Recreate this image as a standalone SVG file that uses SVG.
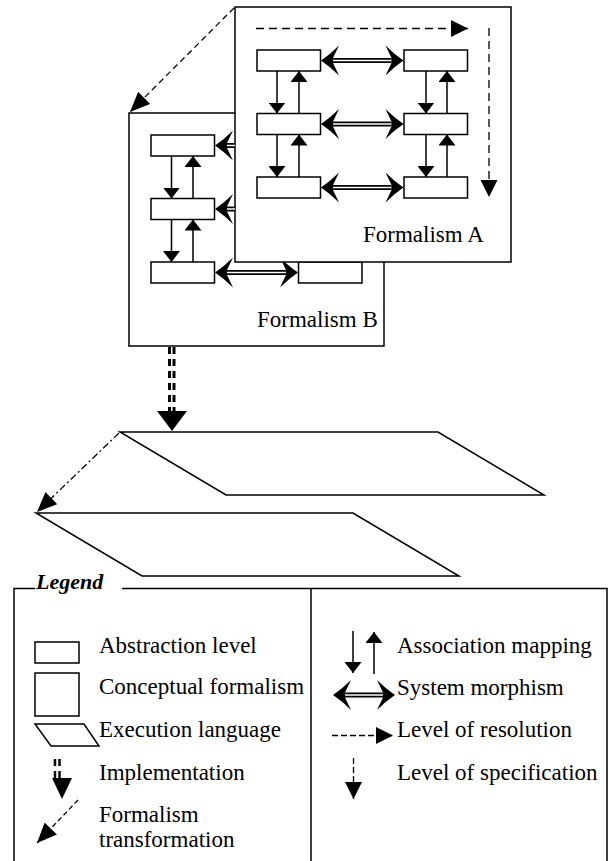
<svg xmlns="http://www.w3.org/2000/svg" xmlns:xlink="http://www.w3.org/1999/xlink" width="610" height="861" viewBox="0 0 610 861">
<style>
.box{fill:#fff;stroke:#000;stroke-width:1.5}
.lvl{fill:#fff;stroke:#000;stroke-width:1.5}
.ln{fill:none;stroke:#000;stroke-width:1.5}
.assoc{fill:none;stroke:#000;stroke-width:1.5;marker-end:url(#tri)}
.dash{fill:none;stroke:#000;stroke-width:1.3;stroke-dasharray:8,5;marker-end:url(#dh)}
.tr{fill:none;stroke:#000;stroke-width:1.3;stroke-dasharray:6,4;marker-end:url(#th)}
.shaft{stroke:#000;stroke-width:5}
.gap{stroke:#fff;stroke-width:1.6}
.impl{stroke:#000;stroke-width:3;stroke-dasharray:7,5}
text{font-family:"Liberation Serif","Times New Roman",serif;font-size:23px;fill:#000}
.leg{font-weight:bold;font-style:italic;font-size:22px}
</style>
<defs>
<marker id="tri" viewBox="0 0 11 17" refX="11" refY="8.5" markerWidth="11" markerHeight="17" markerUnits="userSpaceOnUse" orient="auto"><path d="M0,0L11,8.5L0,17Z" fill="#000"/></marker>
<marker id="dh" viewBox="0 0 17 17" refX="17" refY="8.5" markerWidth="17" markerHeight="17" markerUnits="userSpaceOnUse" orient="auto"><path d="M0,0L17,8.5L0,17Z" fill="#000"/></marker>
<marker id="th" viewBox="0 0 20 17" refX="20" refY="8.5" markerWidth="20" markerHeight="17" markerUnits="userSpaceOnUse" orient="auto"><path d="M0,0L20,8.5L0,17Z" fill="#000"/></marker>
<path id="mh" d="M0,0Q9,-6 18,-15L12,-2.5L12,2.5L18,15Q9,6 0,0Z" fill="#000"/>
<clipPath id="outA"><path clip-rule="evenodd" d="M0,0H610V861H0Z M235,7V262H511V7Z"/></clipPath>
</defs>

<g id="formalismB">
<rect class="box" x="129" y="113" width="255" height="233"/>
<rect class="lvl" x="151" y="135" width="63.5" height="21"/>
<rect class="lvl" x="151" y="198.5" width="63.5" height="21"/>
<rect class="lvl" x="151" y="262" width="63.5" height="21"/>
<rect class="lvl" x="298.5" y="135" width="63.5" height="21"/>
<rect class="lvl" x="298.5" y="198.5" width="63.5" height="21"/>
<rect class="lvl" x="298.5" y="262" width="63.5" height="21"/>
<text x="257" y="327">Formalism B</text>
</g>

<g id="formalismA">
<rect class="box" x="235" y="7" width="276" height="255"/>
<rect class="lvl" x="257" y="50" width="63.5" height="21"/>
<rect class="lvl" x="257" y="113.5" width="63.5" height="21"/>
<rect class="lvl" x="257" y="177" width="63.5" height="21"/>
<rect class="lvl" x="404" y="50" width="63.5" height="21"/>
<rect class="lvl" x="404" y="113.5" width="63.5" height="21"/>
<rect class="lvl" x="404" y="177" width="63.5" height="21"/>
<text x="363" y="242">Formalism A</text>
</g>

<g id="execLangUpper">
<polygon class="ln" points="120,432 438,432 544,495 226,495"/>
</g>
<g id="execLangLower">
<polygon class="ln" points="36,513 353,513 459,576 142,576"/>
</g>

<g id="connectors">
<g clip-path="url(#outA)">
<line class="shaft" x1="227" y1="145.5" x2="286" y2="145.5"/><line class="gap" x1="227" y1="145.5" x2="286" y2="145.5"/>
<use xlink:href="#mh" transform="translate(215,145.5)"/><use xlink:href="#mh" transform="translate(298,145.5) scale(-1,1)"/>
<line class="shaft" x1="227" y1="209" x2="286" y2="209"/><line class="gap" x1="227" y1="209" x2="286" y2="209"/>
<use xlink:href="#mh" transform="translate(215,209)"/><use xlink:href="#mh" transform="translate(298,209) scale(-1,1)"/>
<line class="shaft" x1="227" y1="272.5" x2="286" y2="272.5"/><line class="gap" x1="227" y1="272.5" x2="286" y2="272.5"/>
<use xlink:href="#mh" transform="translate(215,272.5)"/><use xlink:href="#mh" transform="translate(298,272.5) scale(-1,1)"/>
<line class="assoc" x1="171.5" y1="156" x2="171.5" y2="198.5"/>
<line class="assoc" x1="193" y1="198.5" x2="193" y2="156"/>
<line class="assoc" x1="171.5" y1="219.5" x2="171.5" y2="262"/>
<line class="assoc" x1="193" y1="262" x2="193" y2="219.5"/>
<line class="assoc" x1="320" y1="156" x2="320" y2="198.5"/>
<line class="assoc" x1="341" y1="198.5" x2="341" y2="156"/>
<line class="assoc" x1="320" y1="219.5" x2="320" y2="262"/>
<line class="assoc" x1="341" y1="262" x2="341" y2="219.5"/>
</g>
<line class="shaft" x1="333" y1="60.5" x2="391.5" y2="60.5"/><line class="gap" x1="333" y1="60.5" x2="391.5" y2="60.5"/>
<use xlink:href="#mh" transform="translate(321,60.5)"/><use xlink:href="#mh" transform="translate(403.5,60.5) scale(-1,1)"/>
<line class="shaft" x1="333" y1="124" x2="391.5" y2="124"/><line class="gap" x1="333" y1="124" x2="391.5" y2="124"/>
<use xlink:href="#mh" transform="translate(321,124)"/><use xlink:href="#mh" transform="translate(403.5,124) scale(-1,1)"/>
<line class="shaft" x1="333" y1="187.5" x2="391.5" y2="187.5"/><line class="gap" x1="333" y1="187.5" x2="391.5" y2="187.5"/>
<use xlink:href="#mh" transform="translate(321,187.5)"/><use xlink:href="#mh" transform="translate(403.5,187.5) scale(-1,1)"/>
<line class="assoc" x1="277" y1="71" x2="277" y2="113.5"/>
<line class="assoc" x1="299" y1="113.5" x2="299" y2="71"/>
<line class="assoc" x1="277" y1="134.5" x2="277" y2="177"/>
<line class="assoc" x1="299" y1="177" x2="299" y2="134.5"/>
<line class="assoc" x1="426" y1="71" x2="426" y2="113.5"/>
<line class="assoc" x1="447" y1="113.5" x2="447" y2="71"/>
<line class="assoc" x1="426" y1="134.5" x2="426" y2="177"/>
<line class="assoc" x1="447" y1="177" x2="447" y2="134.5"/>
<line class="dash" x1="256" y1="28.5" x2="468" y2="28.5"/>
<line class="dash" x1="489" y1="28" x2="489" y2="197"/>
<line class="tr" x1="234" y1="8" x2="130" y2="112"/>
<line class="impl" x1="169.5" y1="347" x2="169.5" y2="413"/>
<line class="impl" x1="174" y1="347" x2="174" y2="413"/>
<polygon points="157,411 187,411 172,431" fill="#000"/>
<line class="tr" x1="119" y1="433" x2="37" y2="512" style="stroke-dasharray:7,3,2,3"/>
</g>

<g id="legend">
<polyline class="ln" points="35,588.5 14,588.5 14,870"/>
<polyline class="ln" points="122,588.5 607,588.5 607,870"/>
<line class="ln" x1="311" y1="588.5" x2="311" y2="870"/>
<text class="leg" x="36" y="589">Legend</text>
<rect class="lvl" x="35" y="642" width="44" height="21"/>
<rect class="lvl" x="35" y="673" width="44" height="43"/>
<polygon class="ln" points="35,724 84,724 99,746 51,746"/>
<line class="impl" x1="55" y1="759" x2="55" y2="780" style="stroke-width:2.5;stroke-dasharray:7,5"/>
<line class="impl" x1="59.5" y1="759" x2="59.5" y2="780" style="stroke-width:2.5;stroke-dasharray:7,5"/>
<polygon points="52,778 72,778 62,799" fill="#000"/>
<line class="tr" x1="78" y1="800" x2="37" y2="843" style="stroke-dasharray:5,3"/>
<text x="99" y="653">Abstraction level</text>
<text x="99" y="694">Conceptual formalism</text>
<text x="99" y="737">Execution language</text>
<text x="99" y="780">Implementation</text>
<text x="99" y="822">Formalism</text>
<text x="99" y="847">transformation</text>
<line class="assoc" x1="353" y1="631" x2="353" y2="673"/>
<line class="assoc" x1="374" y1="674" x2="374" y2="632"/>
<line class="shaft" x1="345" y1="695" x2="383" y2="695"/><line class="gap" x1="345" y1="695" x2="383" y2="695"/>
<use xlink:href="#mh" transform="translate(333,695)"/><use xlink:href="#mh" transform="translate(395,695) scale(-1,1)"/>
<line class="dash" x1="332" y1="735.5" x2="393" y2="735.5" style="stroke-dasharray:6,3"/>
<line class="dash" x1="353.5" y1="758" x2="353.5" y2="799" style="stroke-dasharray:6,3"/>
<text x="397" y="653">Association mapping</text>
<text x="397" y="695">System morphism</text>
<text x="397" y="737">Level of resolution</text>
<text x="397" y="780">Level of specification</text>
</g>
</svg>
